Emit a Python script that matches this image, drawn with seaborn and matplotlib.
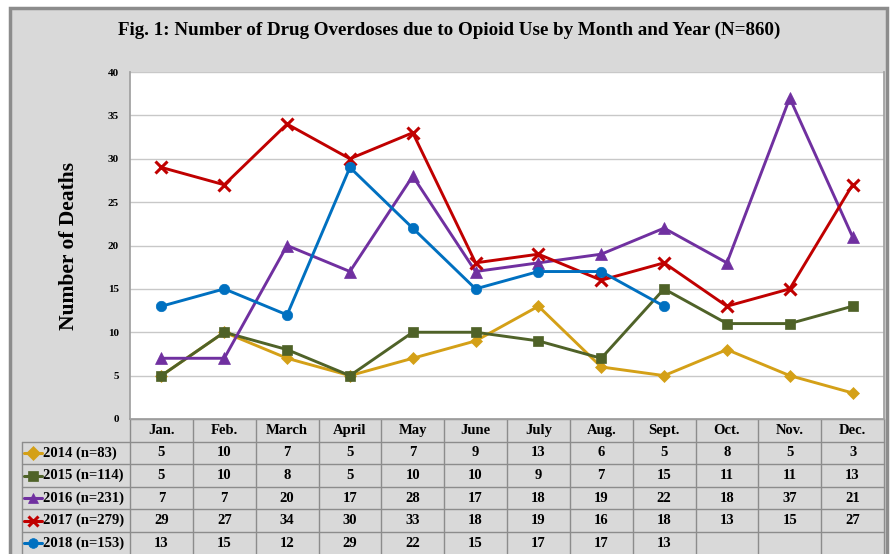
import numpy as np
import pandas as pd
import matplotlib
matplotlib.use("Agg")
import matplotlib.pyplot as plt
from matplotlib.lines import Line2D
from matplotlib.patches import Rectangle
import seaborn as sns

months = ["Jan.", "Feb.", "March", "April", "May", "June", "July", "Aug.",
          "Sept.", "Oct.", "Nov.", "Dec."]
series_labels = ["2014 (n=83)", "2015 (n=114)", "2016 (n=231)", "2017 (n=279)", "2018 (n=153)"]
v2014 = [5, 10, 7, 5, 7, 9, 13, 6, 5, 8, 5, 3]
v2015 = [5, 10, 8, 5, 10, 10, 9, 7, 15, 11, 11, 13]
v2016 = [7, 7, 20, 17, 28, 17, 18, 19, 22, 18, 37, 21]
v2017 = [29, 27, 34, 30, 33, 18, 19, 16, 18, 13, 15, 27]
v2018 = [13, 15, 12, 29, 22, 15, 17, 17, 13, None, None, None]
values = [v2014, v2015, v2016, v2017, v2018]
yticks = [0, 5, 10, 15, 20, 25, 30, 35, 40]

colors = ["#d4a017", "#4f6228", "#7030a0", "#c00000", "#0070c0"]
markers = ["D", "s", "^", "x", "o"]
msizes = [6, 7, 8.5, 8, 7.5]

rows = []
for lab, vals in zip(series_labels, values):
    for i, v in enumerate(vals):
        rows.append({"series": lab, "m": i, "val": np.nan if v is None else v})
df = pd.DataFrame(rows)

sns.set_theme(style="white")
plt.rcParams["font.family"] = ["Liberation Serif", "DejaVu Serif"]
plt.rcParams["font.weight"] = "bold"
plt.rcParams["text.color"] = "black"
plt.rcParams["axes.labelcolor"] = "black"
plt.rcParams["ytick.color"] = "black"

W, H = 894, 554
fig = plt.figure(figsize=(W / 100, H / 100), dpi=100)
fig.patch.set_facecolor("white")
bg = Rectangle((10, -5), 877, H - 8 + 5, transform=None,
               facecolor="#d9d9d9", edgecolor="#8c8c8c", lw=2.5, zorder=-10)
fig.add_artist(bg)

L, R, T, B = 130, 884, 72, 419
ax = fig.add_axes([L / W, 1 - B / H, (R - L) / W, (B - T) / H])
ax.set_zorder(1)
ax.set_facecolor("white")

for lab, c, mk, ms in zip(series_labels, colors, markers, msizes):
    sub = df[df["series"] == lab].dropna()
    sns.lineplot(data=sub, x="m", y="val", ax=ax, color=c, marker=mk,
                 markersize=ms, linewidth=2.1, markeredgecolor=c,
                 markeredgewidth=2.2 if mk == "x" else 0.5, legend=False, zorder=3)

ax.set_xlim(-0.5, 11.5)
ax.set_ylim(0, 40)
ax.set_yticks(yticks)
ax.set_yticklabels([str(t) for t in yticks], fontsize=8, fontweight="bold")
ax.set_xticks([])
ax.set_xlabel("")
ax.set_ylabel("Number of Deaths", fontsize=15.5, fontweight="bold", labelpad=21)
ax.yaxis.grid(True, color="#c8c8c8", lw=1)
ax.spines["top"].set_visible(False)
for s in ["left", "bottom", "right"]:
    ax.spines[s].set_color("#a0a0a0")
ax.tick_params(axis="y", length=0, pad=8)

fig.text(449 / W, 1 - 30 / H,
         "Fig. 1: Number of Drug Overdoses due to Opioid Use by Month and Year (N=860)",
         ha="center", va="center", fontsize=13.7, fontweight="bold", zorder=5)

# data table beneath the axes (axes-fraction coordinates)
ah = B - T
rh = 22.6 / ah
xl = (22 - L) / (R - L)
n = len(months)
lc = "#8c8c8c"
kw = dict(transform=ax.transAxes, clip_on=False)
y_hdr_bot = -rh
y_bottom = -rh * 6
for i, mname in enumerate(months):
    ax.text((i + 0.5) / n, -rh / 2, mname, ha="center", va="center",
            fontsize=10.5, fontweight="bold", **kw)
ax.add_line(Line2D([0, 1], [0, 0], color=lc, lw=1, **kw))
for k in range(1, 7):
    ax.add_line(Line2D([xl, 1], [-rh * k, -rh * k], color=lc, lw=1, **kw))
for i in range(n + 1):
    ax.add_line(Line2D([i / n, i / n], [0, y_bottom], color=lc, lw=1, **kw))
ax.add_line(Line2D([xl, xl], [y_hdr_bot, y_bottom], color=lc, lw=1, **kw))

for r, (lab, vals, c, mk) in enumerate(zip(series_labels, values, colors, markers)):
    yc = -rh * (r + 1.5)
    x0 = xl + 2 / (R - L)
    x1 = xl + 20 / (R - L)
    ax.add_line(Line2D([x0, x1], [yc, yc], color=c, lw=2.2, **kw))
    ax.add_line(Line2D([(x0 + x1) / 2], [yc], color=c, marker=mk, markersize=7,
                       markeredgecolor=c, markeredgewidth=2.2 if mk == "x" else 0.5, **kw))
    ax.text(x1 + 1 / (R - L), yc, lab, ha="left", va="center", fontsize=10.5,
            fontweight="bold", **kw)
    for i, v in enumerate(vals):
        if v is not None:
            ax.text((i + 0.5) / n, yc, str(v), ha="center", va="center",
                    fontsize=10.5, fontweight="bold", **kw)

fig.savefig("out.png", dpi=100)
